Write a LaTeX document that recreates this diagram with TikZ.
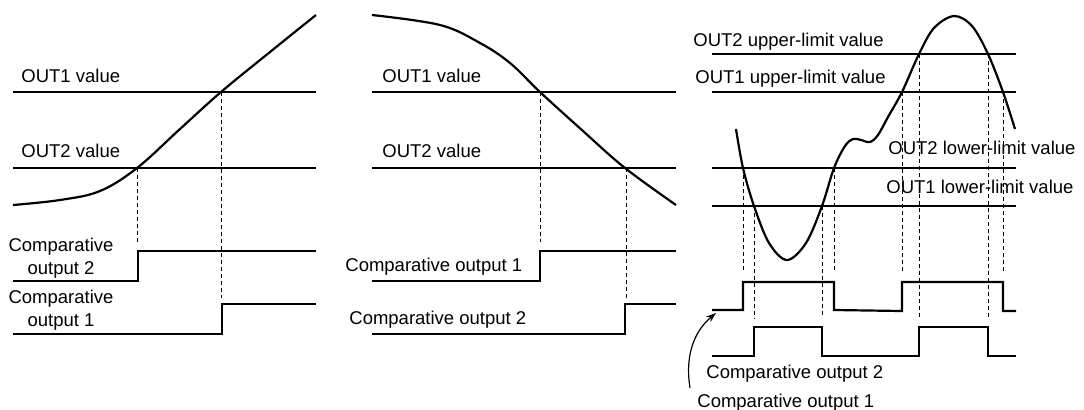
\documentclass[tikz,border=0pt]{standalone}
\usepackage{fontspec}
\setmainfont{Liberation Sans}
\usetikzlibrary{arrows.meta,calc}
\begin{document}
\begin{tikzpicture}[x=0.5pt,y=-0.5pt,
  lvl/.style={line width=0.9pt},
  sig/.style={line width=1.1pt},
  crv/.style={line width=1.1pt},
  guide/.style={dashed,line width=0.45pt,dash pattern=on 2pt off 1.5pt},
  lbl/.style={inner sep=0pt,font=\fontsize{9.25}{11.5}\selectfont},
  arr/.style={line width=0.6pt,-{Stealth[length=5pt,width=3.5pt]}}]
\useasboundingbox (0,0) rectangle (1084,409);

% ---------- Panel 1 ----------
\draw[lvl] (13,92) -- (316,92);
\draw[lvl] (13,168) -- (316,168);
\node[lbl,anchor=base west] (p1o1) at (21,82) {OUT1 value};
\node[lbl,anchor=base west] (p1o2) at (21,157) {OUT2 value};
\draw[crv] plot[smooth,tension=0.6] coordinates {(13,205) (60,200) (100,191) (137,168) (180,129) (221,92) (270,52) (316,15)};
\draw[guide] (137,168) -- (137,242);
\draw[guide] (221,92) -- (221,298);
\draw[sig] (13,281) -- (138,281) -- (138,251) -- (316,251);
\draw[sig] (13,334) -- (222,334) -- (222,304) -- (316,304);
\node[lbl,align=center,anchor=base] (p1c2) at (61,274) {Comparative\\output 2};
\node[lbl,align=center,anchor=base] (p1c1) at (61,326) {Comparative\\output 1};

% ---------- Panel 2 ----------
\draw[lvl] (372,92) -- (676,92);
\draw[lvl] (372,168) -- (676,168);
\node[lbl,anchor=base west] (p2o1) at (382,82) {OUT1 value};
\node[lbl,anchor=base west] (p2o2) at (382,157) {OUT2 value};
\draw[crv] plot[smooth,tension=0.6] coordinates {(372,15) (440,25) (480,43) (510,63) (540,92) (583,131) (625,168) (676,205)};
\draw[guide] (540,92) -- (540,242);
\draw[guide] (626,168) -- (626,298);
\draw[sig] (372,281) -- (540,281) -- (540,251) -- (676,251);
\draw[sig] (372,334) -- (625,334) -- (625,304) -- (676,304);
\node[lbl,anchor=base west] (p2c1) at (345,271) {Comparative output 1};
\node[lbl,anchor=base west] (p2c2) at (349,324) {Comparative output 2};

% ---------- Panel 3 ----------
\draw[lvl] (712,54) -- (1016,54);
\draw[lvl] (712,92) -- (1016,92);
\draw[lvl] (712,168) -- (1016,168);
\draw[lvl] (712,206) -- (1016,206);
\node[lbl,anchor=base west] (p3u2) at (693,46) {OUT2 upper-limit value};
\node[lbl,anchor=base west] (p3u1) at (695,83) {OUT1 upper-limit value};
\node[lbl,anchor=base west] (p3l2) at (888,154) {OUT2 lower-limit value};
\node[lbl,anchor=base west] (p3l1) at (886,193) {OUT1 lower-limit value};
\draw[crv] plot[smooth,tension=0.55] coordinates {(736,129) (743,168) (754,206) (769,243) (787,260) (806,243) (822,206) (834,168) (845,146) (853,139) (861,140) (870,142) (878,135) (888,117) (902,92) (919,54) (934,28) (954,16) (972,26) (988,54) (1003,92) (1015,129)};
\draw[guide] (743,168) -- (743,273);
\draw[guide] (754,206) -- (754,319);
\draw[guide] (822,206) -- (822,318);
\draw[guide] (834,168) -- (834,273);
\draw[guide] (902,92) -- (902,273);
\draw[guide] (919,54) -- (919,319);
\draw[guide] (988,54) -- (988,319);
\draw[guide] (1003,92) -- (1003,273);
\coordinate (w1s) at (712,310);
\coordinate (w1t) at (716,313);
\draw[sig] (w1s) -- (743,310) -- (743,282) -- (834,282) -- (834,310) -- (902,311) -- (902,282) -- (1003,282) -- (1003,311) -- (1016,311);
\draw[sig] (712,356) -- (754,356) -- (754,327) -- (822,327) -- (822,356) -- (919,356) -- (919,327) -- (988,327) -- (988,356) -- (1016,356);
\node[lbl,anchor=base west] (p3c2) at (706,378) {Comparative output 2};
\node[lbl,anchor=base west] (p3c1) at (697,407) {Comparative output 1};
\coordinate (as) at (690,388);
\draw[arr] (as) .. controls (684,350) and (698,328) .. (w1t);
\end{tikzpicture}
\end{document}
